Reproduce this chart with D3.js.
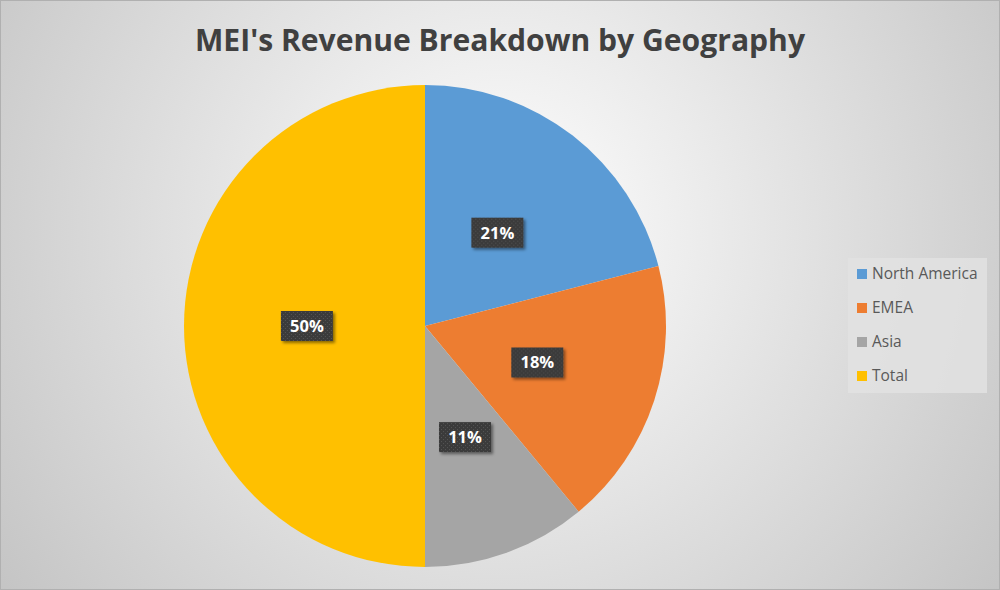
<!DOCTYPE html>
<html>
<head>
<meta charset="utf-8">
<script src="https://cdn.jsdelivr.net/npm/d3@7"></script>
<style>
  body { margin: 0; background: #fff; }
  svg { display: block; }
</style>
</head>
<body>
<div id="chart"></div>
<script>
// data
var regions = ['North America', 'EMEA', 'Asia', 'Total'];
var shares = [21, 18, 11, 50];
var colors = ['#5B9BD5', '#ED7D31', '#A5A5A5', '#FFC000'];

var width = 1000, height = 590;
var cx = 425, cy = 326, radius = 241;

var svg = d3.select('#chart').append('svg')
  .attr('width', width)
  .attr('height', height);

var defs = svg.append('defs');

// background gradient, light in the middle, gray at edges
var bg = defs.append('radialGradient')
  .attr('id', 'bgGrad')
  .attr('gradientUnits', 'userSpaceOnUse')
  .attr('cx', 500).attr('cy', 230).attr('r', 620);
bg.append('stop').attr('offset', '0%').attr('stop-color', '#ffffff');
bg.append('stop').attr('offset', '100%').attr('stop-color', '#c4c4c4');

// dotted dark label fill
var pat = defs.append('pattern')
  .attr('id', 'dots')
  .attr('patternUnits', 'userSpaceOnUse')
  .attr('width', 4).attr('height', 4);
pat.append('rect').attr('width', 4).attr('height', 4).attr('fill', '#3a3a3a');
pat.append('rect').attr('x', 0).attr('y', 0).attr('width', 1).attr('height', 1).attr('fill', '#555');
pat.append('rect').attr('x', 2).attr('y', 2).attr('width', 1).attr('height', 1).attr('fill', '#555');

var shadow = defs.append('filter').attr('id', 'shadow')
  .attr('x', '-20%').attr('y', '-20%').attr('width', '150%').attr('height', '150%');
shadow.append('feDropShadow')
  .attr('dx', 2).attr('dy', 2).attr('stdDeviation', 1.5)
  .attr('flood-color', '#000').attr('flood-opacity', 0.45);

svg.append('rect')
  .attr('x', 0.5).attr('y', 0.5)
  .attr('width', width - 1).attr('height', height - 1)
  .attr('fill', 'url(#bgGrad)')
  .attr('stroke', '#b0b0b0');

// title
svg.append('text')
  .attr('x', 500).attr('y', 51)
  .attr('text-anchor', 'middle')
  .attr('font-family', 'Open Sans, sans-serif')
  .attr('font-weight', 700)
  .attr('font-size', 31)
  .attr('fill', '#404040')
  .attr('textLength', 610)
  .attr('lengthAdjust', 'spacingAndGlyphs')
  .text("MEI's Revenue Breakdown by Geography");

var data = regions.map(function(r, i) { return {name: r, value: shares[i], color: colors[i]}; });

var pie = d3.pie().sort(null).value(function(d) { return d.value; });
var arc = d3.arc().innerRadius(0).outerRadius(radius);
var labelArc = d3.arc().innerRadius(radius * 0.49).outerRadius(radius * 0.49);

var g = svg.append('g').attr('transform', 'translate(' + cx + ',' + cy + ')');
var arcs = pie(data);

g.selectAll('path')
  .data(arcs)
  .enter().append('path')
  .attr('d', arc)
  .attr('fill', function(d) { return d.data.color; });

// labels
var lbl = g.selectAll('.lbl')
  .data(arcs)
  .enter().append('g')
  .attr('class', 'lbl')
  .attr('transform', function(d) { return 'translate(' + labelArc.centroid(d) + ')'; });

lbl.append('rect')
  .attr('x', -26).attr('y', -15)
  .attr('width', 52).attr('height', 30)
  .attr('fill', 'url(#dots)')
  .attr('filter', 'url(#shadow)');

lbl.append('text')
  .attr('text-anchor', 'middle')
  .attr('dy', '0.36em')
  .attr('font-family', 'Open Sans, sans-serif')
  .attr('font-weight', 700)
  .attr('font-size', 16.5)
  .attr('fill', '#fff')
  .text(function(d) { return d.data.value + '%'; });

// legend
var legend = svg.append('g').attr('transform', 'translate(848,258)');
legend.append('rect')
  .attr('width', 139).attr('height', 135)
  .attr('fill', '#e2e2e2').attr('fill-opacity', 0.85);

var items = legend.selectAll('.item')
  .data(data)
  .enter().append('g')
  .attr('class', 'item')
  .attr('transform', function(d, i) { return 'translate(9,' + (16 + i * 34) + ')'; });

items.append('rect')
  .attr('x', 0).attr('y', -5)
  .attr('width', 10).attr('height', 10)
  .attr('fill', function(d) { return d.color; });

items.append('text')
  .attr('x', 15).attr('dy', '0.35em')
  .attr('font-family', 'Open Sans, sans-serif')
  .attr('font-size', 15.5)
  .attr('fill', '#595959')
  .text(function(d) { return d.name; });
</script>
</body>
</html>
